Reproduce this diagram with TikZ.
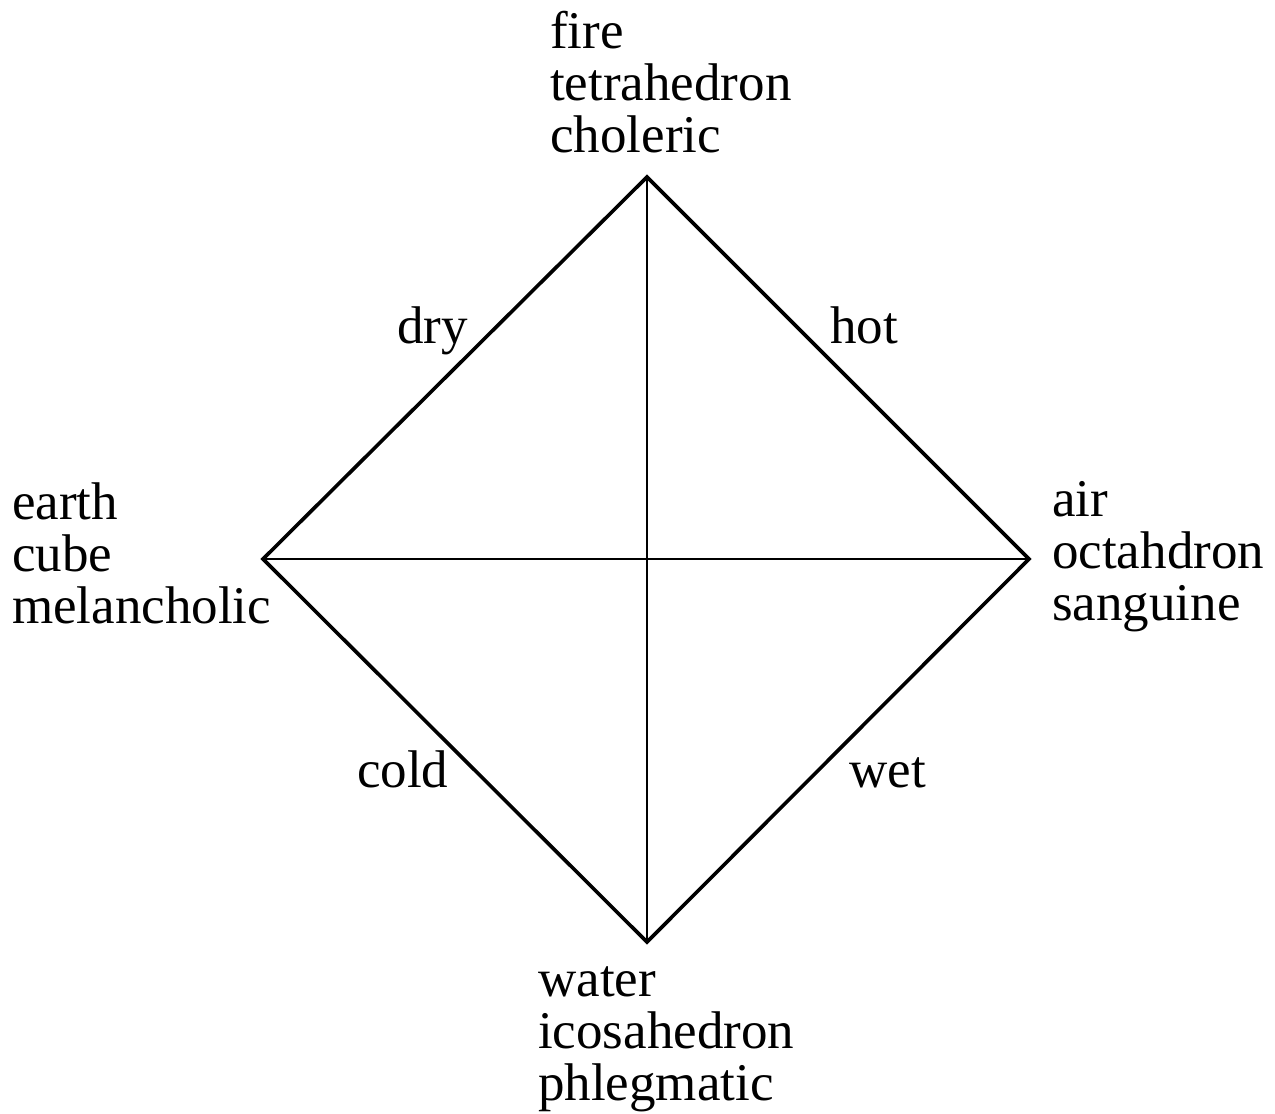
\documentclass[tikz,border=0pt]{standalone}
\usepackage{fontspec}
\setmainfont{Liberation Serif}
\tikzset{
  element/.style={anchor=base west, align=left, inner sep=0pt, font=\fontsize{53}{52}\selectfont},
  quality/.style={anchor=base west, inner sep=0pt, font=\fontsize{53}{52}\selectfont},
  side/.style={line width=3.6pt, line join=miter},
  cross/.style={line width=2.6pt},
}
\begin{document}
\begin{tikzpicture}[x=1pt, y=-1pt]
  \useasboundingbox (0,0) rectangle (1275,1114);

  % vertices of the square
  \coordinate (top) at (647,177);
  \coordinate (left) at (263,559);
  \coordinate (right) at (1029,559);
  \coordinate (bottom) at (647,942);

  \draw[cross] (top) -- (bottom);
  \draw[cross] (left) -- (right);
  \draw[side] (top) -- (right) -- (bottom) -- (left) -- cycle;

  % the four elements (placed by the baseline of their last line)
  \node[element] (fire) at (550,152) {fire\\tetrahedron\\choleric};
  \node[element] (earth) at (12,623) {earth\\cube\\melancholic};
  \node[element] (air) at (1052,620) {air\\octahdron\\sanguine};
  \node[element] (water) at (538,1100) {water\\icosahedron\\phlegmatic};

  % the four qualities
  \node[quality] (dry) at (397,343) {dry};
  \node[quality] (hot) at (830,343) {hot};
  \node[quality] (cold) at (357,787) {cold};
  \node[quality] (wet) at (849,787) {wet};
\end{tikzpicture}
\end{document}
